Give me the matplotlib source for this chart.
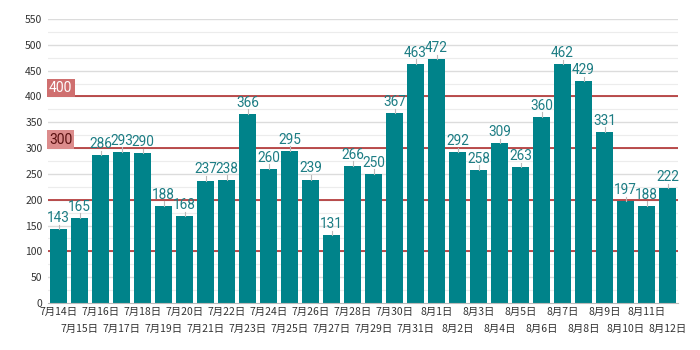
import matplotlib
matplotlib.use("Agg")
import matplotlib.pyplot as plt
import numpy as np

plt.rcParams['font.family'] = ['Noto Sans CJK JP', 'DejaVu Sans']

dates = ["7月14日","7月15日","7月16日","7月17日","7月18日","7月19日","7月20日","7月21日","7月22日","7月23日",
         "7月24日","7月25日","7月26日","7月27日","7月28日","7月29日","7月30日","7月31日","8月1日","8月2日",
         "8月3日","8月4日","8月5日","8月6日","8月7日","8月8日","8月9日","8月10日","8月11日","8月12日"]
values = [143,165,286,293,290,188,168,237,238,366,260,295,239,131,266,250,367,463,472,292,
          258,309,263,360,462,429,331,197,188,222]
ref_lines = [100, 200, 300, 400]
labelled_lines = [300, 400]

fig = plt.figure(figsize=(7, 3.5), dpi=100)
ax = fig.add_axes([48/700, 47/350, (678-48)/700, (303-19)/350])

x = np.arange(len(values))
bar_color = "#00838a"
ax.set_xlim(-0.5, len(values)-0.5)
ax.set_ylim(0, 550)

for yv in np.arange(25, 551, 25):
    if yv % 50 == 0:
        ax.axhline(yv, color="#dcdcdc", lw=1.0, zorder=0)
    else:
        ax.axhline(yv, color="#ececec", lw=0.8, zorder=0)

for r in ref_lines:
    ax.axhline(r, color="#b03030", lw=1.2, zorder=1)

ax.bar(x, values, width=0.82, color=bar_color, zorder=2)

for xi, v in zip(x, values):
    ax.plot([xi, xi], [v, v+9], color="#bbbbbb", lw=0.8, zorder=2)
    ax.text(xi, v+8, str(v), ha="center", va="bottom", fontsize=9.8,
            color="#1d7d84", family=['Roboto', 'DejaVu Sans'], zorder=3)

# labelled reference boxes
for r in labelled_lines:
    if r == 400:
        ax.text(-0.45, r+3, "400", ha="left", va="bottom", fontsize=10, color="white",
                family=['Roboto', 'DejaVu Sans'],
                bbox=dict(boxstyle="square,pad=0.15", fc="#cf6f6f", ec="none"), zorder=4)
    else:
        ax.text(-0.45, r+3, "300", ha="left", va="bottom", fontsize=10, color="#5a1010",
                family=['Roboto', 'DejaVu Sans'],
                bbox=dict(boxstyle="square,pad=0.15", fc="#dc8c8c", ec="none"), zorder=4)

ax.set_yticks(np.arange(0, 551, 50))
ax.set_yticklabels([str(v) for v in range(0, 551, 50)], fontsize=7.5, color="#333333")
ax.set_xticks(x[::2])
ax.set_xticklabels(dates[::2], fontsize=7.5, color="#333333")
ax.set_xticks(x[1::2], minor=True)
ax.set_xticklabels(dates[1::2], minor=True, fontsize=7.5, color="#333333")
ax.tick_params(axis="x", which="major", length=0, pad=3)
ax.tick_params(axis="x", which="minor", length=0, pad=15)
ax.tick_params(axis="y", length=0, pad=4)
for s in ["top", "right", "left"]:
    ax.spines[s].set_visible(False)
ax.spines["bottom"].set_color("#bbbbbb")

fig.savefig("out.png", dpi=100)
